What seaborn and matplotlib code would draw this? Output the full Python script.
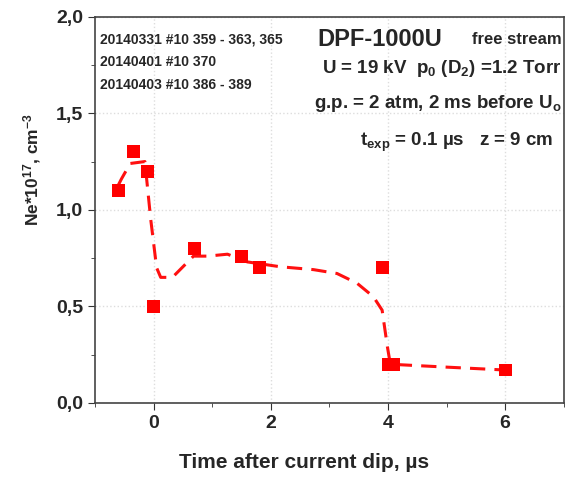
import numpy as np
import pandas as pd
import matplotlib.pyplot as plt
from matplotlib.ticker import MultipleLocator, FuncFormatter
import seaborn as sb

# measured points
t_meas = [-0.6, -0.35, -0.1, 0.0, 0.7, 1.5, 1.8, 3.9, 4.0, 4.1, 6.0]
ne_meas = [1.1, 1.3, 1.2, 0.5, 0.8, 0.76, 0.7, 0.7, 0.2, 0.2, 0.17]

# hand-drawn trend line
t_fit = [-0.6, -0.55, -0.4, -0.15, -0.05, 0.05, 0.12, 0.32, 0.68, 0.92, 1.26, 1.6,
         2.16, 2.73, 3.13, 3.47, 3.75, 3.9, 3.99, 4.04, 5.0, 6.0]
ne_fit = [1.13, 1.16, 1.24, 1.25, 0.95, 0.7, 0.65, 0.65, 0.76, 0.76, 0.77, 0.73,
          0.705, 0.69, 0.67, 0.62, 0.55, 0.48, 0.29, 0.2, 0.185, 0.17]

sb.set_style('white')
plt.rcParams['font.family'] = ['Liberation Sans Narrow', 'Liberation Sans', 'DejaVu Sans']
plt.rcParams['font.weight'] = 'bold'
plt.rcParams['axes.labelweight'] = 'bold'
plt.rcParams['mathtext.fontset'] = 'custom'
plt.rcParams['mathtext.rm'] = 'Liberation Sans:bold'
plt.rcParams['mathtext.it'] = 'Liberation Sans:bold'
plt.rcParams['mathtext.bf'] = 'Liberation Sans:bold'
plt.rcParams['mathtext.default'] = 'rm'

fig = plt.figure(figsize=(5.66, 4.79), dpi=100)
ax = fig.add_axes([0.168, 0.159, 0.828, 0.806])

fit = pd.DataFrame({'t': t_fit, 'ne': ne_fit})
meas = pd.DataFrame({'t': t_meas, 'ne': ne_meas})
sb.lineplot(data=fit, x='t', y='ne', sort=False, color='#ff1010', lw=2.2,
            linestyle=(0, (5, 3)), ax=ax)
sb.scatterplot(data=meas, x='t', y='ne', marker='s', s=85, color='#ff0000',
               edgecolor='none', ax=ax, zorder=3)

ax.set_xlim(-1, 7)
ax.set_ylim(0, 2.0)
ax.xaxis.set_major_locator(MultipleLocator(2))
ax.xaxis.set_minor_locator(MultipleLocator(1))
ax.yaxis.set_major_locator(MultipleLocator(0.5))
ax.yaxis.set_minor_locator(MultipleLocator(0.25))
ax.yaxis.set_major_formatter(FuncFormatter(lambda v, p: f'{v:.1f}'.replace('.', ',')))
ax.tick_params(which='both', direction='out', bottom=True, left=True, top=False,
               right=False, labelsize=14, color='#333333')
ax.tick_params(which='major', length=5)
ax.tick_params(which='minor', length=3)
ax.grid(True, which='major', color='#dddddd', linestyle=':', lw=1)
for s in ax.spines.values():
    s.set_color('#444444')
    s.set_linewidth(1.2)

ax.set_xlabel('Time after current dip, \u00b5s', fontsize=15)
ax.set_ylabel(r'Ne*10$^{\mathregular{17}}$, cm$^{\mathregular{-3}}$', fontsize=12.5)
ax.xaxis.set_label_coords(0.446, -0.13)
ax.yaxis.set_label_coords(-0.112, 0.604)

ax.text(-0.92, 1.88, '20140331 #10 359 - 363, 365', fontsize=10, va='center')
ax.text(-0.92, 1.765, '20140401 #10 370', fontsize=10, va='center')
ax.text(-0.92, 1.645, '20140403 #10 386 - 389', fontsize=10, va='center')
ax.text(2.8, 1.88, 'DPF-1000U', fontsize=17, va='center')
ax.text(6.97, 1.88, 'free stream', fontsize=12, va='center', ha='right')
ax.text(6.97, 1.73, r'U = 19 kV  p$_0$ (D$_2$) =1.2 Torr', fontsize=13.5, va='center', ha='right')
ax.text(6.97, 1.55, r'g.p. = 2 atm, 2 ms before U$_o$', fontsize=13.5, va='center', ha='right')
ax.text(6.82, 1.35, 't$_{exp}$ = 0.1 \u00b5s   z = 9 cm', fontsize=13.5, va='center', ha='right')

fig.savefig('out.png', dpi=100)
